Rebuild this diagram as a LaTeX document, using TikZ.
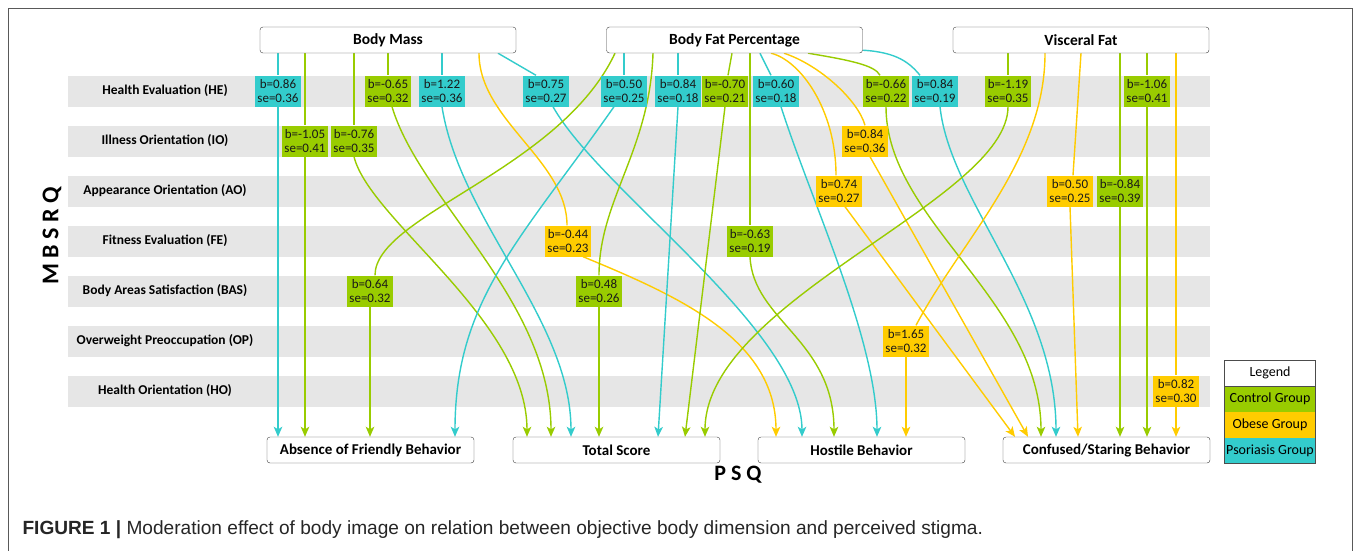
\documentclass[tikz,border=0pt]{standalone}
\usepackage{fontspec}
\setmainfont{Carlito}
\newfontfamily\capfont{Liberation Sans}
\usetikzlibrary{arrows.meta,positioning}

\definecolor{ctrlgreen}{HTML}{99CC00}
\definecolor{obeseyellow}{HTML}{FFCC00}
\definecolor{psorteal}{HTML}{33CCCC}
\definecolor{bandgray}{HTML}{E6E6E6}

\pgfdeclarelayer{bands}
\pgfdeclarelayer{links}
\pgfsetlayers{bands,links,main}

\tikzset{
  varbox/.style={draw=black!75, rounded corners=3pt, fill=white, minimum width=256pt,
    minimum height=26pt, inner sep=0pt, font=\bfseries\fontsize{15.5}{17}\selectfont},
  psqbox/.style={varbox, minimum width=207pt, font=\bfseries\fontsize{15}{17}\selectfont},
  rowlabel/.style={font=\bfseries\fontsize{13.5}{15}\selectfont},
  coef/.style={inner xsep=2.5pt, inner ysep=1pt, minimum height=31pt, align=center,
    font=\fontsize{13}{14.5}\selectfont, text=black!90},
  ctrlc/.style={coef, fill=ctrlgreen},
  obesec/.style={coef, fill=obeseyellow},
  psorc/.style={coef, fill=psorteal},
  ctrl/.style={draw=ctrlgreen, line width=1.4pt},
  obese/.style={draw=obeseyellow, line width=1.4pt},
  psor/.style={draw=psorteal, line width=1.4pt},
  arr/.style={-{Stealth[length=10pt,width=8.5pt,inset=2.5pt]}},
  legcell/.style={minimum width=90pt, minimum height=25.5pt, inner sep=0pt,
    font=\fontsize{14}{16}\selectfont}
}

\begin{document}
\begin{tikzpicture}[x=1pt,y=-1pt]
\useasboundingbox (0,0) rectangle (1360,550);

% background, frame and MBSRQ bands
\begin{pgfonlayer}{bands}
  \fill[white] (0,0) rectangle (1360,550);
  \draw[black!65, line width=0.8pt] (8,552) -- (8,8) -- (1352,8) -- (1352,552);
  \fill[bandgray] (68,75.5) rectangle (1210,106.5);
  \fill[bandgray] (68,125.5) rectangle (1210,156.5);
  \fill[bandgray] (68,175.5) rectangle (1210,206.5);
  \fill[bandgray] (68,225.5) rectangle (1210,256.5);
  \fill[bandgray] (68,275.5) rectangle (1210,306.5);
  \fill[bandgray] (68,325.5) rectangle (1210,356.5);
  \fill[bandgray] (68,375.5) rectangle (1210,406.5);
\end{pgfonlayer}

% row labels
\node[rowlabel] (rhe) at (165,91) {Health Evaluation (HE)};
\node[rowlabel] (rio) at (165,141) {Illness Orientation (IO)};
\node[rowlabel] (rao) at (165,191) {Appearance Orientation (AO)};
\node[rowlabel] (rfe) at (165,241) {Fitness Evaluation (FE)};
\node[rowlabel] (rbas) at (165,291) {Body Areas Satisfaction (BAS)};
\node[rowlabel] (rop) at (165,341) {Overweight Preoccupation (OP)};
\node[rowlabel] (rho) at (165,391) {Health Orientation (HO)};
\node[rotate=90, font=\bfseries\fontsize{24}{24}\selectfont] (mbsrq) at (52,236) {M B S R Q};

% body dimension boxes
\node[varbox] (bm) at (388,40) {Body Mass};
\node[varbox] (bfp) at (734.5,40) {Body Fat Percentage};
\node[varbox] (vf) at (1081,40) {Visceral Fat};

% PSQ boxes
\node[psqbox] (afb) at (370.5,450) {Absence of Friendly Behavior};
\node[psqbox] (ts) at (616.5,450) {Total Score};
\node[psqbox] (hb) at (861.5,450) {Hostile Behavior};
\node[psqbox] (csb) at (1106.5,450) {Confused/Staring Behavior};
\node[font=\bfseries\fontsize{22}{22}\selectfont] (psq) at (738,475) {P S Q};

% coefficients
\node[psorc] (he1) at (278,91) {b=0.86\\se=0.36};
\node[ctrlc] (he2) at (388,91) {b=-0.65\\se=0.32};
\node[psorc] (he3) at (442,91) {b=1.22\\se=0.36};
\node[psorc] (he4) at (546,91) {b=0.75\\se=0.27};
\node[psorc] (he5) at (624,91) {b=0.50\\se=0.25};
\node[psorc] (he6) at (678,91) {b=0.84\\se=0.18};
\node[ctrlc] (he7) at (725,91) {b=-0.70\\se=0.21};
\node[psorc] (he8) at (776,91) {b=0.60\\se=0.18};
\node[ctrlc] (he9) at (886,91) {b=-0.66\\se=0.22};
\node[psorc] (he10) at (935,91) {b=0.84\\se=0.19};
\node[ctrlc] (he11) at (1008,91) {b=-1.19\\se=0.35};
\node[ctrlc] (he12) at (1147,91) {b=-1.06\\se=0.41};
\node[ctrlc] (io1) at (305,141) {b=-1.05\\se=0.41};
\node[ctrlc] (io2) at (354,141) {b=-0.76\\se=0.35};
\node[obesec] (io3) at (865,141) {b=0.84\\se=0.36};
\node[obesec] (ao1) at (839,191) {b=0.74\\se=0.27};
\node[obesec] (ao2) at (1070,191) {b=0.50\\se=0.25};
\node[ctrlc] (ao3) at (1120,191) {b=-0.84\\se=0.39};
\node[obesec] (fe1) at (568,241) {b=-0.44\\se=0.23};
\node[ctrlc] (fe2) at (750,241) {b=-0.63\\se=0.19};
\node[ctrlc] (bas1) at (370,291) {b=0.64\\se=0.32};
\node[ctrlc] (bas2) at (599,291) {b=0.48\\se=0.26};
\node[obesec] (op1) at (906,341) {b=1.65\\se=0.32};
\node[obesec] (ho1) at (1176,391) {b=0.82\\se=0.30};

% legend
\node[legcell, fill=white] (leg) at (1270,373) {Legend};
\node[legcell, fill=ctrlgreen, below=0pt of leg] (legc) {Control Group};
\node[legcell, fill=obeseyellow, below=0pt of legc] (lego) {Obese Group};
\node[legcell, fill=psorteal, below=0pt of lego] (legp) {Psoriasis Group};
\draw[black!70, line width=0.8pt] (leg.north west) rectangle (legp.south east);
\draw[black!70, line width=0.5pt] (leg.south west) -- (leg.south east);

% caption
\node[anchor=west, font=\capfont\fontsize{19.1}{21}\selectfont, text=black!85] (cap) at (19,530)
  {\textbf{FIGURE 1 |} Moderation effect of body image on relation between objective body dimension and perceived stigma.};

\begin{pgfonlayer}{links}
% body mass
\draw[psor,arr] (bm.south -| he1) -- (he1) -- (afb.north -| he1);
\draw[ctrl,arr] (bm.south -| io1) -- (io1) -- (afb.north -| io1);
\draw[ctrl] (bm.south -| io2) -- (io2);
\draw[ctrl,arr] (io2.south) .. controls +(16,64) and +(0,-117) .. (ts.north -| 527,0);
\draw[ctrl] (bm.south -| he2) -- (he2);
\draw[ctrl,arr] ([xshift=4pt]he2.south) .. controls +(28,94) and +(0,-137) .. (ts.north -| 551,0);
\draw[psor] (bm.south -| he3) -- (he3);
\draw[psor,arr] (he3.south) .. controls +(18,114) and +(0,-117) .. (ts.north -| 571,0);
\draw[obese] (bm.south -| 479,0) .. controls +(0,67) and +(0,-65) .. ([xshift=-1pt]fe1.north);
\draw[obese,arr] ([xshift=15pt]fe1.south) .. controls +(97,40) and +(0,-97) .. (hb.north -| 776,0);
\draw[psor] (bm.south -| 498,0) -- ([xshift=-10pt]he4.north);
\draw[psor,arr] ([xshift=7pt]he4.south) .. controls +(47,84) and +(0,-107) .. (hb.north -| 802,0);
% body fat percentage
\draw[ctrl] (bfp.south -| 615,0) .. controls +(-55,117) and +(0,-60) .. ([xshift=5pt]bas1.north);
\draw[ctrl,arr] (bas1) -- (afb.north -| bas1);
\draw[psor] (bfp.south -| he5) -- (he5);
\draw[psor,arr] ([xshift=-10pt]he5.south) .. controls +(-94,134) and +(0,-137) .. (afb.north -| 455,0);
\draw[ctrl] (bfp.south -| 653,0) .. controls +(-3,97) and +(0,-75) .. (bas2.north);
\draw[ctrl,arr] (bas2) -- (ts.north -| bas2);
\draw[psor] (bfp.south -| he6) -- (he6);
\draw[psor,arr] (he6.south) -- (ts.north -| 658,0);
\draw[ctrl] (bfp.south -| 732,0) -- ([xshift=3pt]he7.north);
\draw[ctrl,arr] (he7.south) -- (ts.north -| 685,0);
\draw[ctrl] (bfp.south -| fe2) -- (fe2);
\draw[ctrl,arr] (fe2.south) .. controls +(3,64) and +(0,-97) .. (hb.north -| 834,0);
\draw[psor] (bfp.south -| 760,0) -- ([xshift=-5pt]he8.north);
\draw[psor,arr] ([xshift=5pt]he8.south) .. controls +(30,94) and +(0,-97) .. (hb.north -| 877,0);
\draw[obese] (bfp.south -| 771,0) .. controls +(29,7) and +(0,-66) .. ([xshift=-3pt]ao1.north);
\draw[obese,arr] ([xshift=6pt]ao1.south) -- (csb.north -| 1015,0);
\draw[obese] (bfp.south -| 784,0) .. controls +(36,12) and +(-7,-25) .. (io3.north);
\draw[obese,arr] ([xshift=5pt]io3.south) -- (csb.north -| 1028,0);
\draw[ctrl] (bfp.south -| 808,0) .. controls +(42,7) and +(-5,-10) .. ([xshift=-6pt]he9.north);
\draw[ctrl,arr] (he9.south) .. controls +(0,114) and +(0,-137) .. (csb.north -| 1041,0);
\draw[psor] ([yshift=3pt]bfp.south east) .. controls +(35,2) and +(-10,-12) .. ([xshift=-15pt]he10.north);
\draw[psor,arr] ([xshift=5pt]he10.south) .. controls +(10,94) and +(0,-137) .. (csb.north -| 1056,0);
% visceral fat
\draw[ctrl] (vf.south -| he11) -- (he11);
\draw[ctrl,arr] (he11.south) .. controls +(0,94) and +(0,-137) .. (ts.north -| 705,0);
\draw[obese] (vf.south -| 1045,0) .. controls +(0,107) and +(45,-85) .. ([xshift=10pt]op1.north);
\draw[obese,arr] (op1) -- (hb.north -| op1);
\draw[obese] (vf.south -| 1081,0) -- ([xshift=3pt]ao2.north);
\draw[obese,arr] (ao2.south) -- (csb.north -| 1078,0);
\draw[ctrl,arr] (vf.south -| ao3) -- (ao3) -- (csb.north -| ao3);
\draw[ctrl,arr] (vf.south -| he12) -- (he12) -- (csb.north -| he12);
\draw[obese,arr] (vf.south -| ho1) -- (ho1) -- (csb.north -| ho1);
\end{pgfonlayer}
\end{tikzpicture}
\end{document}
